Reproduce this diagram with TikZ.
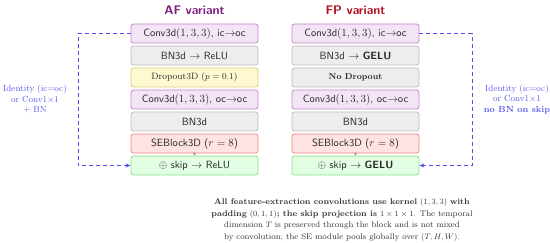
\documentclass[tikz,border=0pt]{standalone}
\usepackage{amsmath}
\usetikzlibrary{arrows.meta}
\definecolor{convfill}{HTML}{F4E5F6}
\definecolor{convdraw}{HTML}{C583CC}
\definecolor{bnfill}{HTML}{EDEDED}
\definecolor{bndraw}{HTML}{BDBDBD}
\definecolor{dropfill}{HTML}{FFF9D2}
\definecolor{dropdraw}{HTML}{D8CE7C}
\definecolor{sefill}{HTML}{FFE2E2}
\definecolor{sedraw}{HTML}{EE8585}
\definecolor{skipfill}{HTML}{E3FFE3}
\definecolor{skipdraw}{HTML}{88E288}
\definecolor{afcol}{HTML}{7D1E7D}
\definecolor{fpcol}{HTML}{B0101E}
\definecolor{skipline}{HTML}{4F4FF2}
\definecolor{skiptext}{HTML}{5A5AEE}
\begin{document}
\begin{tikzpicture}[x=1pt,y=-1pt,
  blk/.style={draw, rounded corners=2.5pt, line width=0.8pt, minimum width=127pt,
    minimum height=19pt, inner sep=0pt, text=black!85,
    font=\sffamily\fontsize{10.5}{12}\selectfont},
  convbox/.style={blk, fill=convfill, draw=convdraw},
  bnbox/.style={blk, fill=bnfill, draw=bndraw},
  dropbox/.style={blk, fill=dropfill, draw=dropdraw, font=\rmfamily\fontsize{9.2}{11}\selectfont},
  nodropbox/.style={blk, fill=bnfill, draw=bndraw, font=\rmfamily\bfseries\fontsize{8.5}{10}\selectfont},
  sebox/.style={blk, fill=sefill, draw=sedraw},
  skipbox/.style={blk, fill=skipfill, draw=skipdraw},
  title/.style={font=\sffamily\bfseries\fontsize{12.5}{14}\selectfont},
  skiparrow/.style={draw=skipline, line width=0.9pt, dash pattern=on 4pt off 3pt,
    -{Stealth[length=5pt,width=4pt]}},
  sidelabel/.style={align=center, text=skiptext, font=\rmfamily\fontsize{8.8}{10.5}\selectfont},
  flow/.style={draw=black!45, line width=0.5pt, -{Stealth[length=3pt,width=3pt]}}
]
\useasboundingbox (0,0) rectangle (550,243);

% titles
\node[title, text=afcol] (taf) at (194.5,10) {AF variant};
\node[title, text=fpcol] (tfp) at (355.5,10) {FP variant};

% AF column
\node[convbox] (a1) at (194.5,33.5) {Conv3d$(1,3,3)$, ic$\to$oc};
\node[bnbox]   (a2) at (194.5,55.5) {BN3d $\to$ ReLU};
\node[dropbox] (a3) at (194.5,77.5) {Dropout3D ($p=0.1$)};
\node[convbox] (a4) at (194.5,99.5) {Conv3d$(1,3,3)$, oc$\to$oc};
\node[bnbox]   (a5) at (194.5,121.5) {BN3d};
\node[sebox]   (a6) at (194.5,143.5) {SEBlock3D ($r=8$)};
\node[skipbox] (a7) at (194.5,165.5) {$\oplus$ skip $\to$ ReLU};

% FP column
\node[convbox]   (f1) at (355.5,33.5) {Conv3d$(1,3,3)$, ic$\to$oc};
\node[bnbox]     (f2) at (355.5,55.5) {BN3d $\to$ \textbf{GELU}};
\node[nodropbox] (f3) at (355.5,77.5) {No Dropout};
\node[convbox]   (f4) at (355.5,99.5) {Conv3d$(1,3,3)$, oc$\to$oc};
\node[bnbox]     (f5) at (355.5,121.5) {BN3d};
\node[sebox]     (f6) at (355.5,143.5) {SEBlock3D ($r=8$)};
\node[skipbox]   (f7) at (355.5,165.5) {$\oplus$ skip $\to$ \textbf{GELU}};

% small flow arrows
\draw[flow] (a6.south) -- (a7.north);
\draw[flow] (f6.south) -- (f7.north);

% skip connections
\coordinate (lc) at (78,33.5);
\coordinate (rc) at (472,33.5);
\draw[skiparrow] (a1.west) -- (lc) |- (a7.west);
\draw[skiparrow] (f1.east) -- (rc) |- (f7.east);

% side labels
\node[sidelabel] (ll) at (35,99.5) {Identity (ic=oc)\\or Conv1$\times$1\\+ BN};
\node[sidelabel] (rl) at (517,99.5) {Identity (ic=oc)\\or Conv1$\times$1\\\textbf{no BN on skip}};

% caption
\node[align=center, text=black!80, font=\rmfamily\fontsize{8.3}{11.7}\selectfont] (cap) at (342,220)
{\textbf{All feature-extraction convolutions use kernel} $(1,3,3)$ \textbf{with}\\
\textbf{padding} $(0,1,1)$\textbf{; the skip projection is} $1\times1\times1$. The temporal\\
dimension $T$ is preserved through the block and is not mixed\\
by convolution; the SE module pools globally over $(T,H,W)$.};
\end{tikzpicture}
\end{document}
